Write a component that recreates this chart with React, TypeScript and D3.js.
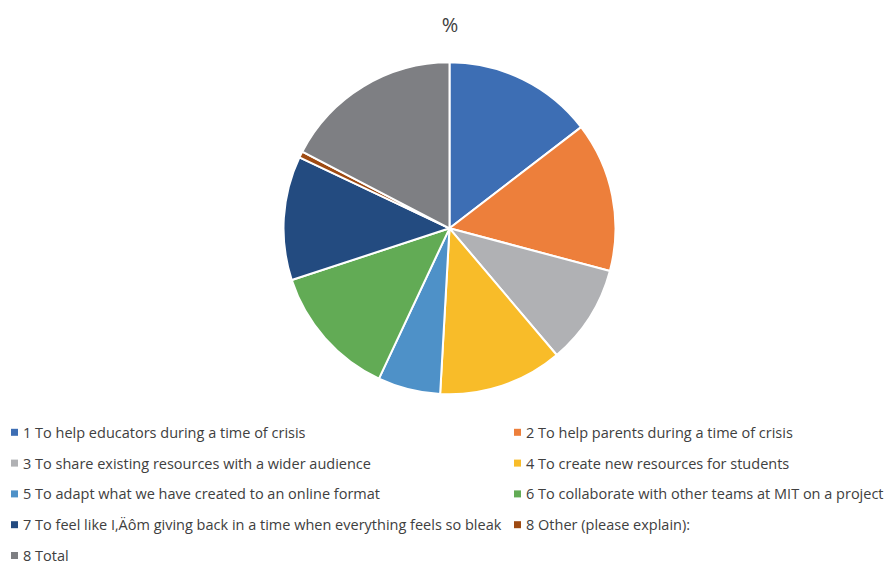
import React from "react";
import * as d3 from "d3";

// Survey motivations, share of responses (%)
const categories: string[] = [
  "1 To help educators during a time of crisis",
  "2 To help parents during a time of crisis",
  "3 To share existing resources with a wider audience",
  "4 To create new resources for students",
  "5 To adapt what we have created to an online format",
  "6 To collaborate with other teams at MIT on a project",
  "7 To feel like I‚Äôm giving back in a time when everything feels so bleak",
  "8 Other (please explain):",
  "8 Total",
];
const values: number[] = [14.6, 14.6, 9.7, 12.1, 6.1, 13.0, 12.1, 0.6, 17.4];
const colors: string[] = [
  "#3d6eb4",
  "#ed7f3b",
  "#b0b1b4",
  "#f8bc29",
  "#4e91c8",
  "#62ab55",
  "#234b80",
  "#9e4a12",
  "#7e7f83",
];
const title = "%";

const W = 891;
const H = 562;
const FONT = "'Open Sans', 'Noto Sans', sans-serif";

export default function App() {
  const cx = 449.5;
  const cy = 228.3;
  const r = 166;

  const pie = d3
    .pie<number>()
    .sort(null)
    .value((d) => d);
  const arcs = pie(values);
  const arc = d3.arc<d3.PieArcDatum<number>>().innerRadius(0).outerRadius(r);

  const legendX = [11, 514];
  const legendY0 = 432.3;
  const legendStep = 30.8;

  return (
    <svg
      width={W}
      height={H}
      style={{ position: "absolute", left: 0, top: 0, background: "#fff" }}
      fontFamily={FONT}
    >
      <text
        x={450}
        y={24}
        textAnchor="middle"
        dominantBaseline="central"
        fontSize={20}
        fill="#404040"
      >
        {title}
      </text>
      <g transform={`translate(${cx},${cy})`}>
        {arcs.map((a, i) => (
          <path
            key={i}
            d={arc(a) || ""}
            fill={colors[i]}
            stroke="#fff"
            strokeWidth={2}
            strokeLinejoin="round"
          />
        ))}
      </g>
      <g>
        {categories.map((c, i) => {
          const col = i % 2;
          const row = Math.floor(i / 2);
          const x = legendX[col];
          const y = legendY0 + row * legendStep;
          return (
            <g key={i} transform={`translate(${x},${y})`}>
              <rect x={0} y={-3.5} width={7} height={7} fill={colors[i]} />
              <text
                x={12}
                y={0}
                dominantBaseline="central"
                fontSize={14.5}
                fill="#404040"
              >
                {c}
              </text>
            </g>
          );
        })}
      </g>
    </svg>
  );
}
